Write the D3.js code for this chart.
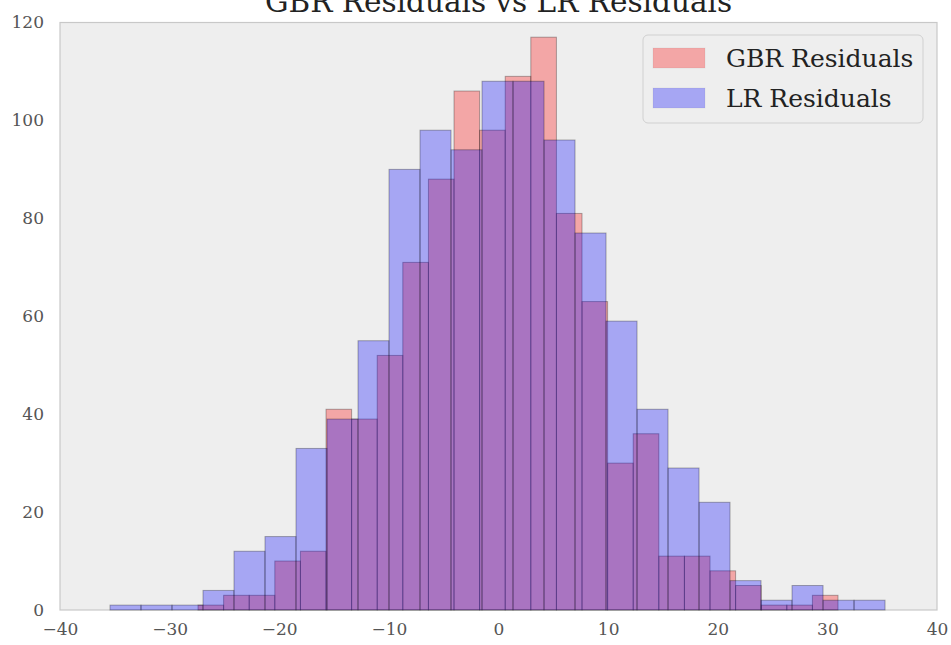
<!DOCTYPE html>
<html lang="en">
<head>
    <meta charset="UTF-8">
    <title>GBR Residuals vs LR Residuals</title>
    <style>
        body { margin: 0; background: #fff; }
        text { font-family: "DejaVu Serif", serif; }
        .tick-label { fill: #555; font-size: 17px; }
        .bar { stroke: #000; stroke-opacity: 0.3; stroke-width: 1; }
    </style>
</head>
<body>
    <svg></svg>
</body>
<script src="https://d3js.org/d3.v7.min.js"></script>
<script>
    // histogram counts, 25 bins each, drawn in this order
    var gbrRange = [-27.41, 30.97];
    var gbrCounts = [1, 3, 3, 10, 12, 41, 39, 52, 71, 88, 106, 98, 109, 117, 81, 63, 30, 36, 11, 11, 8, 5, 1, 1, 3];

    var lrRange = [-35.44, 35.26];
    var lrCounts = [1, 1, 1, 4, 12, 15, 33, 39, 55, 90, 98, 94, 108, 108, 96, 77, 59, 41, 29, 22, 6, 2, 5, 2, 2];

    var xTicks = [-40, -30, -20, -10, 0, 10, 20, 30, 40];
    var yTicks = [0, 20, 40, 60, 80, 100, 120];

    var seriesNames = ["GBR Residuals", "LR Residuals"];
    var seriesColors = ["red", "blue"];

    var width = 951;
    var height = 645;
    var margin = {top: 22.5, right: 14, bottom: 35, left: 60};

    var svg = d3.select("svg")
        .attr("width", width)
        .attr("height", height);

    var x = d3.scaleLinear()
        .domain([-40, 40])
        .range([margin.left, width - margin.right]);

    var y = d3.scaleLinear()
        .domain([0, 120])
        .range([height - margin.bottom, margin.top]);

    // axes background
    svg.append("rect")
        .attr("x", x(-40))
        .attr("y", y(120))
        .attr("width", x(40) - x(-40))
        .attr("height", y(0) - y(120))
        .attr("fill", "#eeeeee")
        .attr("stroke", "#c8c8c8")
        .attr("stroke-width", 1.2);

    function toBins(range, counts) {
        var step = (range[1] - range[0]) / counts.length;
        return counts.map(function(c, i) {
            return {x0: range[0] + i * step, x1: range[0] + (i + 1) * step, n: c};
        });
    }

    var series = [toBins(gbrRange, gbrCounts), toBins(lrRange, lrCounts)];

    var g = svg.append("g");
    series.forEach(function(bins, k) {
        g.selectAll(".bar-" + k)
            .data(bins)
            .enter()
            .append("rect")
            .attr("class", "bar bar-" + k)
            .attr("x", d => x(d.x0))
            .attr("y", d => y(d.n))
            .attr("width", d => x(d.x1) - x(d.x0))
            .attr("height", d => y(0) - y(d.n))
            .attr("fill", seriesColors[k])
            .attr("fill-opacity", 0.3);
    });

    // axes (labels only, no tick marks)
    var xAxis = svg.append("g")
        .attr("transform", "translate(0," + y(0) + ")")
        .call(d3.axisBottom(x).tickValues(xTicks).tickSize(0).tickPadding(13)
            .tickFormat(d => d3.format("d")(d).replace("-", "\u2212")));
    var yAxis = svg.append("g")
        .attr("transform", "translate(" + x(-40) + ",0)")
        .call(d3.axisLeft(y).tickValues(yTicks).tickSize(0).tickPadding(16));

    [xAxis, yAxis].forEach(function(a) {
        a.select(".domain").remove();
        a.selectAll("text")
            .attr("class", "tick-label")
            .attr("font-family", null)
            .attr("font-size", null);
    });

    // title (clipped by the top edge, as in the original figure)
    svg.append("text")
        .attr("x", x(0))
        .attr("y", 12)
        .attr("text-anchor", "middle")
        .attr("font-size", 29.5)
        .attr("fill", "#222")
        .text("GBR Residuals vs LR Residuals");

    // legend
    var legend = svg.append("g");
    legend.append("rect")
        .attr("x", 643)
        .attr("y", 35)
        .attr("width", 280)
        .attr("height", 88)
        .attr("rx", 5)
        .attr("fill", "#eeeeee")
        .attr("stroke", "#d0d0d0");

    seriesNames.forEach(function(name, k) {
        legend.append("rect")
            .attr("x", 653)
            .attr("y", 48 + k * 40)
            .attr("width", 52)
            .attr("height", 20)
            .attr("fill", seriesColors[k])
            .attr("fill-opacity", 0.3)
            .attr("stroke", "#000")
            .attr("stroke-opacity", 0.05);
        legend.append("text")
            .attr("x", 726)
            .attr("y", 58 + k * 40)
            .attr("dy", "0.35em")
            .attr("font-size", 25)
            .attr("fill", "#222")
            .text(name);
    });
</script>
</html>
